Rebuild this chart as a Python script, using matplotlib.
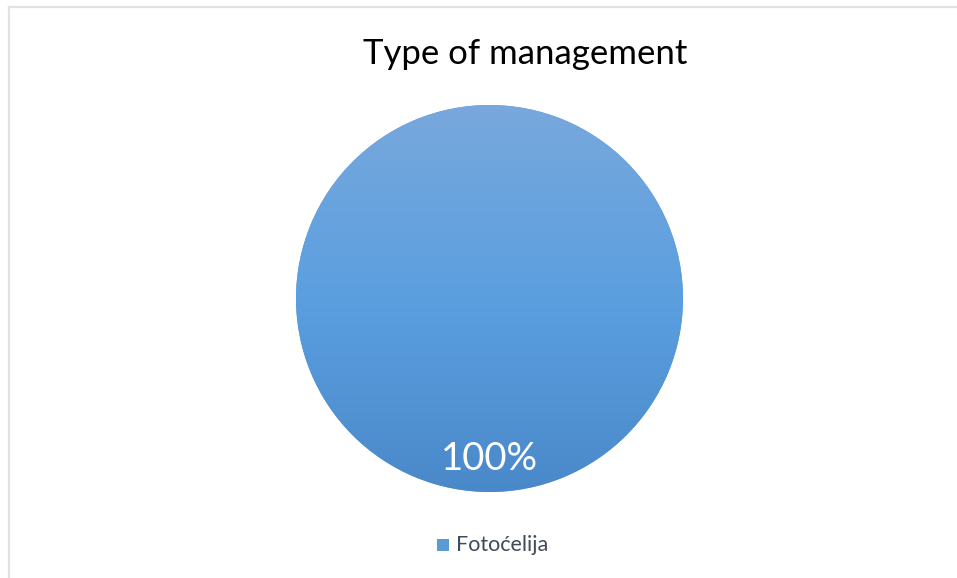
import matplotlib
matplotlib.use("Agg")
import matplotlib.pyplot as plt
import numpy as np
from matplotlib.colors import LinearSegmentedColormap
from matplotlib.patches import Rectangle
from matplotlib.lines import Line2D

title = "Type of management"
categories = ["Fotoćelija"]
shares = [100]

W, H = 957, 578
fig = plt.figure(figsize=(W / 100, H / 100), dpi=100)
fig.patch.set_facecolor("white")

# thin chart-area frame (top and left edges)
fig.add_artist(Line2D([9 / W, 1.0], [1 - 6.5 / H] * 2, color="#dfe3e8", lw=1.6))
fig.add_artist(Line2D([9 / W] * 2, [0, 1 - 6.5 / H], color="#dfe3e8", lw=1.6))

fig.text(525 / W, 1 - 54 / H, title, ha="center", va="center",
         fontsize=25, family="Lato", color="black")

cx, cy, r = 489.5, 298.5, 193.5
ax = fig.add_axes([(cx - r) / W, (H - cy - r) / H, 2 * r / W, 2 * r / H])
wedges, texts, autotexts = ax.pie(
    shares, radius=1.0, startangle=90, counterclock=False,
    autopct="%d%%", pctdistance=0.83,
    wedgeprops=dict(linewidth=0, facecolor="#5b9bd5"),
    textprops=dict(color="white", fontsize=27.5, family="Lato"),
)
ax.set_xlim(-1, 1)
ax.set_ylim(-1, 1)
ax.set_aspect("equal")
ax.axis("off")

# vertical gradient fill clipped to the slice
cmap = LinearSegmentedColormap.from_list("grad", ["#4a89c9", "#5b9fe0", "#78a8dc"])
grad = np.linspace(0, 1, 256).reshape(-1, 1)
im = ax.imshow(grad, extent=[-1, 1, -1, 1], origin="lower", cmap=cmap,
               aspect="auto", zorder=wedges[0].get_zorder() + 0.1,
               interpolation="bilinear")
im.set_clip_path(wedges[0])
for t in autotexts:
    t.set_zorder(5)

# legend
lx, ly = 437, 545
fig.add_artist(Rectangle((lx / W, (H - ly - 6) / H), 12 / W, 12 / H,
                         transform=fig.transFigure, facecolor="#5b9bd5",
                         edgecolor="none"))
fig.text(456 / W, 1 - ly / H, categories[0], ha="left", va="center",
         fontsize=15.5, family="Lato", color="#404a58")

fig.savefig("out.png", dpi=100, facecolor="white")
